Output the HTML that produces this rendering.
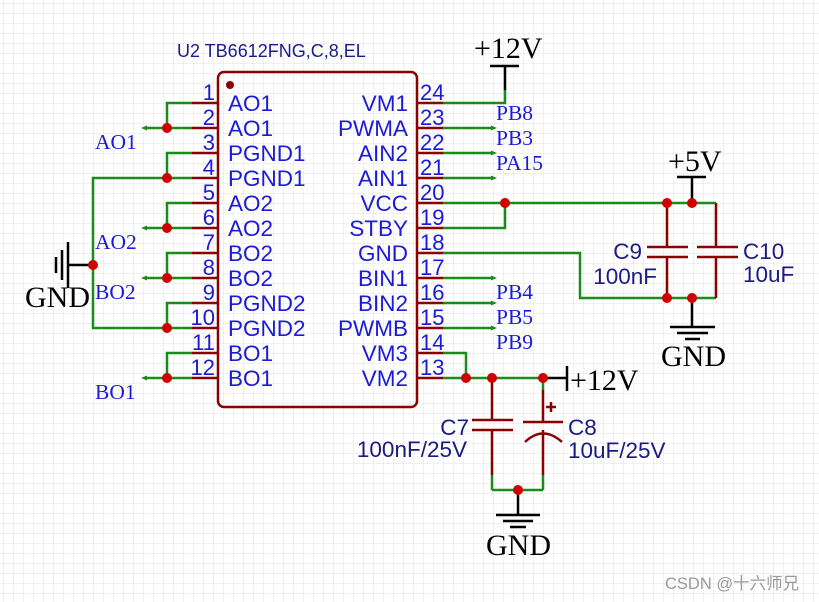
<!DOCTYPE html>
<html><head><meta charset="utf-8"><style>
html,body{margin:0;padding:0;background:#fff}
svg{display:block}
.pn{font-family:"Liberation Sans",sans-serif;font-size:22px;fill:#1a1ad8}
.pi{font-family:"Liberation Sans",sans-serif;font-size:22.5px;fill:#1a1ad8}
.nl{font-family:"Liberation Serif",serif;font-size:21.5px;fill:#1a1ad8}
.pw{font-family:"Liberation Serif",serif;font-size:30px;fill:#000}
.cl{font-family:"Liberation Sans",sans-serif;font-size:22.5px;fill:#1a1a80}
</style></head><body>
<svg width="819" height="602" viewBox="0 0 819 602" xmlns="http://www.w3.org/2000/svg">
<defs>
<pattern id="g" width="10" height="10" patternUnits="userSpaceOnUse" x="3" y="3">
<path d="M10 0H0V10" fill="none" stroke="#e2e2e2" stroke-width="1"/>
</pattern>
</defs>
<rect width="819" height="602" fill="url(#g)"/>
<text x="177" y="57" class="cl" style="font-size:18px;fill:#1a1a90">U2 TB6612FNG,C,8,EL</text>
<rect x="218" y="72" width="199" height="335" rx="6" fill="none" stroke="#8b0000" stroke-width="2.5"/>
<circle cx="230" cy="85" r="4" fill="#8b0000"/>
<g stroke="#8b0000" stroke-width="2.5">
<path d="M192 103H218M192 128H218M192 153H218M192 178H218M192 203H218M192 228H218M192 253H218M192 278H218M192 303H218M192 328H218M192 353H218M192 378H218"/>
<path d="M417 103H443M417 128H443M417 153H443M417 178H443M417 203H443M417 228H443M417 253H443M417 278H443M417 303H443M417 328H443M417 353H443M417 378H443"/>
</g>
<g fill="none" stroke="#1a8c1a" stroke-width="2.5">
<path d="M192 103H167V128H192M167 128H145"/>
<path d="M192 153H167V178H192M167 178H93V328H167M192 328H167V303H192"/>
<path d="M192 203H167V228H192M167 228H145"/>
<path d="M192 253H167V278H192M167 278H145"/>
<path d="M192 353H167V378H192M167 378H145"/>
<path d="M443 103H505V90"/>
<path d="M443 128H493M443 153H493M443 178H493M443 278H493M443 303H493M443 328H493"/>
<path d="M443 203H716M443 228H505V203"/>
<path d="M443 253H580V298H716"/>
<path d="M443 353H466V378M443 378H543"/>
<path d="M492 490H543"/>
<path d="M543 378V390M543 475V490M492 475V490"/>
</g>
<g fill="#1a8c1a">
<path d="M141 128l6-2.5v5zM141 228l6-2.5v5zM141 278l6-2.5v5zM141 378l6-2.5v5z"/>
<path d="M497 128l-6-2.5v5zM497 153l-6-2.5v5zM497 178l-6-2.5v5zM497 278l-6-2.5v5zM497 303l-6-2.5v5zM497 328l-6-2.5v5z"/>
</g>
<g stroke="#8b0000" stroke-width="2.5" fill="none">
<path d="M667 203V247M667 257V298M647 247H688M647 257H688"/>
<path d="M716 203V247M716 257V298M697 247H738M697 257H738"/>
<path d="M492 378V420M492 430V475M472 420H513M472 430H513"/>
<path d="M543 390V422M523 422H563M543 430V475M525 442Q543 425 562 442"/>
<path d="M546 407H556M551 402V412"/>
</g>
<g stroke="#000" stroke-width="2.5" fill="none">
<path d="M505 90V66M490 66H519"/>
<path d="M692 203V177M677 177H706"/>
<path d="M692 298V327M670 327H715M677 333H708M685 339H700"/>
<path d="M518 490V515M496 515H540M503 521H533M510 527H526"/>
<path d="M543 378H567M567 366V391"/>
<path d="M93 265H68M68 242V288M62 250V280M56 257V273"/>
</g>
<g fill="#d00000">
<circle cx="167" cy="128" r="5"/><circle cx="167" cy="178" r="5"/><circle cx="167" cy="228" r="5"/><circle cx="167" cy="278" r="5"/><circle cx="167" cy="328" r="5"/><circle cx="167" cy="378" r="5"/><circle cx="93" cy="265" r="5"/>
<circle cx="505" cy="203" r="5"/><circle cx="667" cy="203" r="5"/><circle cx="692" cy="203" r="5"/><circle cx="667" cy="298" r="5"/><circle cx="692" cy="298" r="5"/>
<circle cx="466" cy="378" r="5"/><circle cx="492" cy="378" r="5"/><circle cx="543" cy="378" r="5"/><circle cx="518" cy="490" r="5"/>
</g>
<g class="pn" text-anchor="end">
<text x="215" y="100">1</text><text x="215" y="125">2</text><text x="215" y="150">3</text><text x="215" y="175">4</text><text x="215" y="200">5</text><text x="215" y="225">6</text><text x="215" y="250">7</text><text x="215" y="275">8</text><text x="215" y="300">9</text><text x="215" y="325">10</text><text x="215" y="350">11</text><text x="215" y="375">12</text>
</g>
<g class="pn">
<text x="420" y="100">24</text><text x="420" y="125">23</text><text x="420" y="150">22</text><text x="420" y="175">21</text><text x="420" y="200">20</text><text x="420" y="225">19</text><text x="420" y="250">18</text><text x="420" y="275">17</text><text x="420" y="300">16</text><text x="420" y="325">15</text><text x="420" y="350">14</text><text x="420" y="375">13</text>
</g>
<g class="pi">
<text x="228" y="111">AO1</text><text x="228" y="136">AO1</text><text x="228" y="161">PGND1</text><text x="228" y="186">PGND1</text><text x="228" y="211">AO2</text><text x="228" y="236">AO2</text><text x="228" y="261">BO2</text><text x="228" y="286">BO2</text><text x="228" y="311">PGND2</text><text x="228" y="336">PGND2</text><text x="228" y="361">BO1</text><text x="228" y="386">BO1</text>
</g>
<g class="pi" text-anchor="end">
<text x="408" y="111">VM1</text><text x="408" y="136">PWMA</text><text x="408" y="161">AIN2</text><text x="408" y="186">AIN1</text><text x="408" y="211">VCC</text><text x="408" y="236">STBY</text><text x="408" y="261">GND</text><text x="408" y="286">BIN1</text><text x="408" y="311">BIN2</text><text x="408" y="336">PWMB</text><text x="408" y="361">VM3</text><text x="408" y="386">VM2</text>
</g>
<g class="nl">
<text x="95" y="149">AO1</text><text x="95" y="249">AO2</text><text x="95" y="299">BO2</text><text x="95" y="399">BO1</text>
<text x="496" y="120">PB8</text><text x="496" y="145">PB3</text><text x="496" y="170">PA15</text><text x="496" y="299">PB4</text><text x="496" y="324">PB5</text><text x="496" y="349">PB9</text>
</g>
<g class="pw">
<text x="474" y="58">+12V</text><text x="668" y="171">+5V</text><text x="661" y="366">GND</text><text x="486" y="555">GND</text><text x="570" y="390">+12V</text><text x="25" y="307">GND</text>
</g>
<g class="cl">
<text x="642" y="259" text-anchor="end">C9</text><text x="657" y="284" text-anchor="end">100nF</text>
<text x="743" y="259">C10</text><text x="743" y="282">10uF</text>
<text x="469" y="435" text-anchor="end">C7</text><text x="467" y="457" text-anchor="end">100nF/25V</text>
<text x="568" y="435">C8</text><text x="568" y="458">10uF/25V</text>
</g>
<text x="665" y="589" style="font-family:'Liberation Sans','Noto Sans CJK SC',sans-serif;font-size:16.5px;fill:#999">CSDN @十六师兄</text>
</svg>
</body></html>
